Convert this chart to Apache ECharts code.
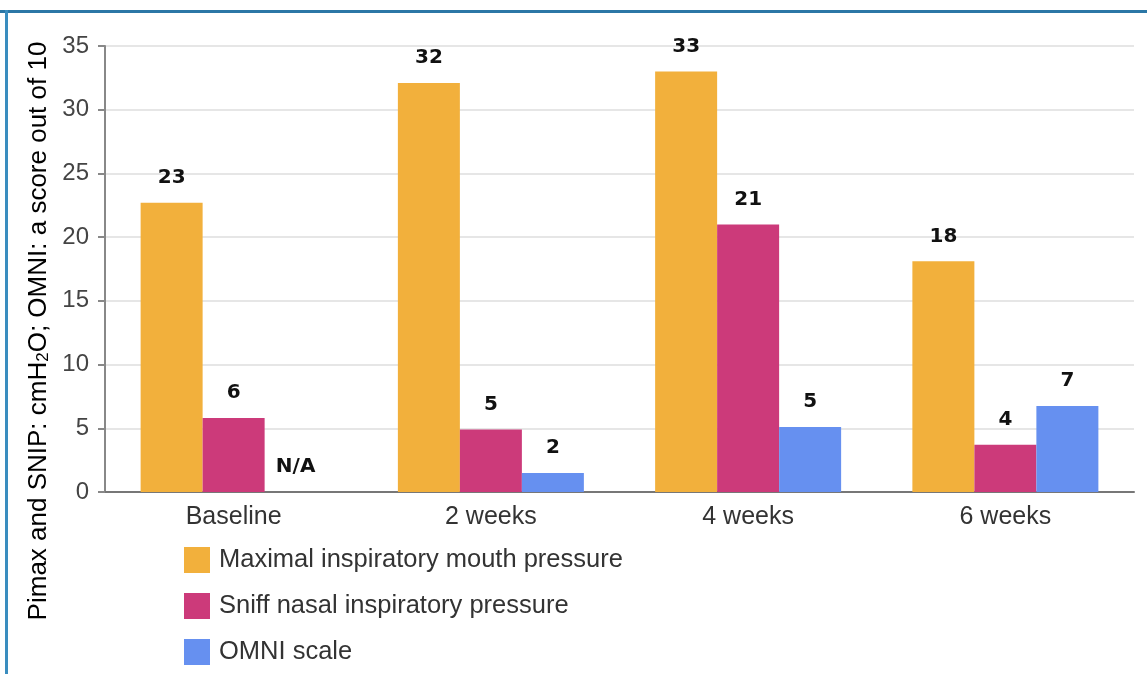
<!DOCTYPE html>
<html>
<head>
<meta charset="utf-8">
<title>Pimax, SNIP and OMNI scale over time</title>
<script src="https://cdn.jsdelivr.net/npm/echarts@6/dist/echarts.min.js"></script>
<style>
  html, body { margin: 0; padding: 0; background: #ffffff; }
  #chart { width: 1147px; height: 674px; }
</style>
</head>
<body>
<div id="chart"></div>
<script>
// Time points
const categories = ['Baseline', '2 weeks', '4 weeks', '6 weeks'];
// Maximal inspiratory mouth pressure (cmH2O)
const pimax = [22.7, 32.1, 33.0, 18.1];
// Sniff nasal inspiratory pressure (cmH2O)
const snip = [5.8, 4.9, 21.0, 3.7];
// OMNI scale (score out of 10); not measured at baseline
const omni = [null, 1.5, 5.1, 6.75];
const seriesNames = [
  'Maximal inspiratory mouth pressure',
  'Sniff nasal inspiratory pressure',
  'OMNI scale'
];
const yTicks = { min: 0, max: 35, interval: 5 };

const colors = ['#F2B03C', '#CC3A7A', '#6690F0'];
const sansFont = '"Liberation Sans", Arial, Helvetica, sans-serif';
const labelFont = '"DejaVu Sans", Verdana, sans-serif';

const valueLabel = {
  show: true,
  position: 'top',
  distance: 15,
  fontFamily: labelFont,
  fontWeight: 'bold',
  fontSize: 20,
  color: '#111',
  formatter: p => Math.round(p.value)
};

function toData(values) {
  // Missing measurements get a zero-height bar labelled N/A
  return values.map(v => v === null
    ? { value: 0, label: { formatter: 'N/A' } }
    : v);
}

const chart = echarts.init(document.getElementById('chart'), null, { renderer: 'canvas' });

chart.setOption({
  animation: false,
  backgroundColor: '#ffffff',
  color: colors,
  grid: { left: 105, right: 13, top: 46, bottom: 182, containLabel: false },
  legend: {
    orient: 'vertical',
    left: 184,
    top: 547,
    padding: 0,
    height: 127,
    itemWidth: 26,
    itemHeight: 26,
    itemGap: 20,
    icon: 'rect',
    selectedMode: false,
    textStyle: { fontFamily: sansFont, fontSize: 25.5, color: '#333', padding: [8, 0, 0, 4] },
    data: seriesNames
  },
  xAxis: {
    type: 'category',
    data: categories,
    axisLine: { lineStyle: { color: '#777', width: 2 } },
    axisTick: { show: false },
    axisLabel: { fontFamily: sansFont, fontSize: 25, color: '#333', margin: 13 }
  },
  yAxis: {
    type: 'value',
    min: yTicks.min,
    max: yTicks.max,
    interval: yTicks.interval,
    axisLine: { show: true, lineStyle: { color: '#888', width: 2 } },
    axisTick: { show: true, length: 7, lineStyle: { color: '#888', width: 2 } },
    axisLabel: { fontFamily: sansFont, fontSize: 24, color: '#444', margin: 16 },
    splitLine: { show: true, lineStyle: { color: '#e6e6e6', width: 2 } }
  },
  series: [
    { name: seriesNames[0], type: 'bar', data: toData(pimax), barWidth: 62, barGap: '0%', label: valueLabel },
    { name: seriesNames[1], type: 'bar', data: toData(snip), barWidth: 62, barGap: '0%', label: valueLabel },
    { name: seriesNames[2], type: 'bar', data: toData(omni), barWidth: 62, barGap: '0%', label: valueLabel }
  ],
  graphic: [
    // Frame lines along the top and left edges
    { type: 'rect', shape: { x: 0, y: 10, width: 1147, height: 3 }, style: { fill: '#2B77A6' }, silent: true },
    { type: 'rect', shape: { x: 5, y: 10, width: 3, height: 664 }, style: { fill: '#3A8DBF' }, silent: true },
    // Vertical axis title with subscript
    {
      type: 'text',
      x: 36,
      y: 331,
      rotation: Math.PI / 2,
      silent: true,
      style: {
        text: '{a|Pimax and SNIP: cmH}{s|2}{a|O; OMNI: a score out of 10}',
        align: 'center',
        verticalAlign: 'middle',
        rich: {
          a: { fontFamily: sansFont, fontSize: 26, color: '#333', lineHeight: 32, verticalAlign: 'bottom' },
          s: { fontFamily: sansFont, fontSize: 17, color: '#333', lineHeight: 32, verticalAlign: 'bottom', padding: [12, 0, 0, 0] }
        }
      }
    }
  ]
});
</script>
</body>
</html>
